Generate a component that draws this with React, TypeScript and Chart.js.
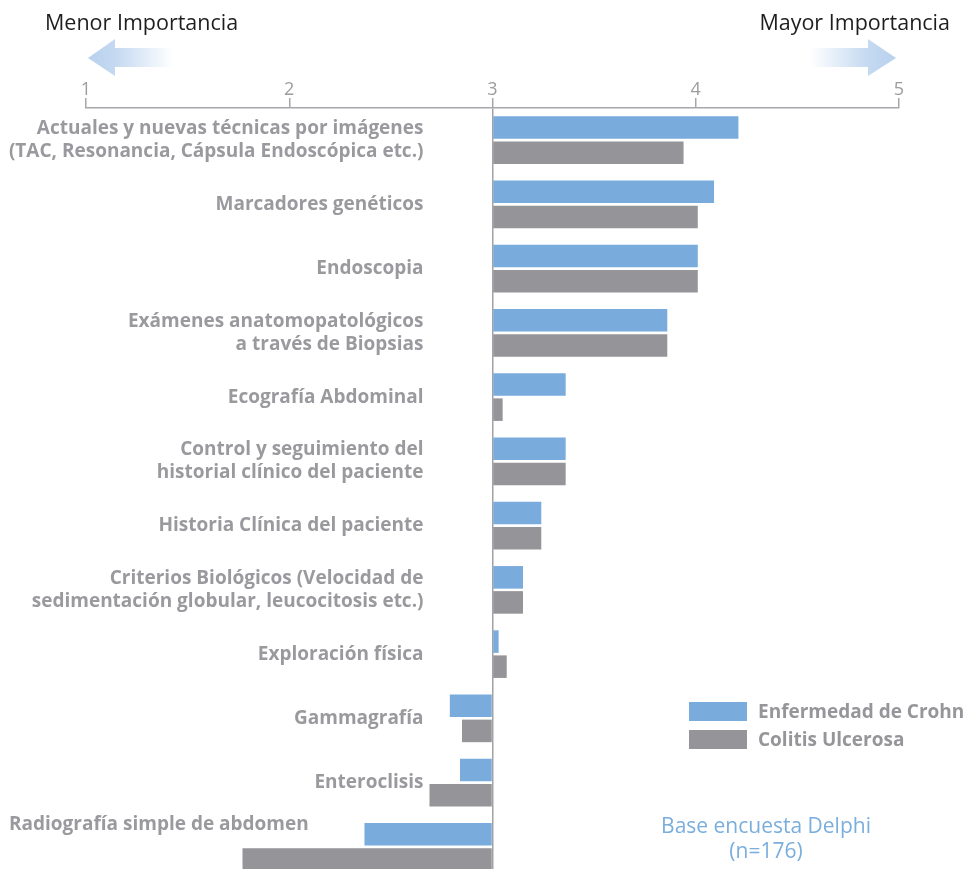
import React, { useEffect, useRef } from "react";
import { Chart, registerables } from "chart.js";

Chart.register(...registerables);

// Diagnostic methods, top to bottom
const categories: string[][] = [
  ["Actuales y nuevas técnicas por imágenes", "(TAC, Resonancia, Cápsula Endoscópica etc.)"],
  ["Marcadores genéticos"],
  ["Endoscopia"],
  ["Exámenes anatomopatológicos", "a través de Biopsias"],
  ["Ecografía Abdominal"],
  ["Control y seguimiento del", "historial clínico del paciente"],
  ["Historia Clínica del paciente"],
  ["Criterios Biológicos (Velocidad de", "sedimentación globular, leucocitosis etc.)"],
  ["Exploración física"],
  ["Gammagrafía"],
  ["Enteroclisis"],
  ["Radiografía simple de abdomen"],
];

// Mean importance score (1–5 scale), bars grow from the neutral value 3
const crohnValues = [4.21, 4.09, 4.01, 3.86, 3.36, 3.36, 3.24, 3.15, 3.03, 2.79, 2.84, 2.37];
const colitisValues = [3.94, 4.01, 4.01, 3.86, 3.05, 3.36, 3.24, 3.15, 3.07, 2.85, 2.69, 1.77];

const seriesNames = ["Enfermedad de Crohn", "Colitis Ulcerosa"];
const seriesColors = ["#79acdd", "#959599"];

const axisTicks = [1, 2, 3, 4, 5];
const neutralValue = 3;

const FONT = "'Open Sans', 'Noto Sans', sans-serif";
const LABEL_COLOR = "#9a9a9e";

// Draws the category names next to the bar pairs
const categoryLabels = {
  id: "categoryLabels",
  afterDatasetsDraw(chart: any) {
    const { ctx, scales } = chart;
    const yScale = scales.y;
    const xScale = scales.x;
    const rightEdge = xScale.getPixelForValue(neutralValue) - 69;
    const lineHeight = 23;
    ctx.save();
    ctx.font = `bold 19px ${FONT}`;
    ctx.fillStyle = LABEL_COLOR;
    ctx.textBaseline = "middle";
    categories.forEach((lines, i) => {
      const cy = yScale.getPixelForValue(i);
      const isLast = i === categories.length - 1;
      const top = cy - ((lines.length - 1) * lineHeight) / 2 - (isLast ? 22 : 0);
      ctx.textAlign = isLast ? "left" : "right";
      const x = isLast ? 9 : rightEdge;
      lines.forEach((line, j) => {
        ctx.fillText(line, x, top + j * lineHeight);
      });
    });
    ctx.restore();
  },
};

function Arrow({ dir }: { dir: "left" | "right" }) {
  const id = `grad-${dir}`;
  const pts =
    dir === "left"
      ? "2,19 29,0 29,9 87,9 87,28 29,28 29,37"
      : "86,19 58,0 58,9 0,9 0,28 58,28 58,37";
  return (
    <svg width={88} height={38} style={{ position: "absolute", left: dir === "left" ? 86 : 810, top: 39 }}>
      <defs>
        <linearGradient id={id} x1={dir === "left" ? "0" : "1"} y1="0" x2={dir === "left" ? "1" : "0"} y2="0">
          <stop offset="0" stopColor="#b9d1ee" />
          <stop offset="0.35" stopColor="#c6daf1" />
          <stop offset="1" stopColor="#ffffff" />
        </linearGradient>
      </defs>
      <polygon points={pts} fill={`url(#${id})`} />
    </svg>
  );
}

export default function App() {
  const canvasRef = useRef<HTMLCanvasElement | null>(null);

  useEffect(() => {
    if (!canvasRef.current) return;
    const chart = new Chart(canvasRef.current, {
      type: "bar",
      data: {
        labels: categories.map((c) => c.join(" ")),
        datasets: [
          {
            label: seriesNames[0],
            data: crohnValues,
            backgroundColor: seriesColors[0],
            base: neutralValue,
            categoryPercentage: 0.78,
            barPercentage: 0.9,
          } as any,
          {
            label: seriesNames[1],
            data: colitisValues,
            backgroundColor: seriesColors[1],
            base: neutralValue,
            categoryPercentage: 0.78,
            barPercentage: 0.9,
          } as any,
        ],
      },
      options: {
        indexAxis: "y",
        animation: false,
        responsive: false,
        layout: { padding: { left: 86, right: 69, top: 0, bottom: 0 } },
        plugins: {
          legend: { display: false },
          tooltip: { enabled: false },
        },
        scales: {
          x: {
            position: "top",
            min: axisTicks[0],
            max: axisTicks[axisTicks.length - 1],
            afterBuildTicks: (scale: any) => {
              scale.ticks = axisTicks.map((v) => ({ value: v }));
            },
            afterFit: (scale: any) => {
              scale.height = 108;
            },
            ticks: {
              color: "#9c9ca0",
              font: { family: FONT, size: 18 },
              padding: -3,
            },
            grid: {
              color: (c: any) => (c.tick && c.tick.value === neutralValue ? "#a2a2a6" : "rgba(0,0,0,0)"),
              lineWidth: 1.5,
              tickColor: "#a7a7ab",
              tickLength: 10,
              drawOnChartArea: true,
            },
            border: { color: "#a7a7ab", width: 1.5 },
          },
          y: {
            display: false,
            grid: { display: false },
          },
        },
      },
      plugins: [categoryLabels],
    });
    return () => chart.destroy();
  }, []);

  const titleStyle: React.CSSProperties = {
    position: "absolute",
    top: 8,
    fontFamily: FONT,
    fontSize: 21.5,
    color: "#1e1e1e",
    lineHeight: "28px",
    whiteSpace: "nowrap",
  };

  return (
    <div style={{ position: "absolute", left: 0, top: 0, width: 968, height: 869, background: "#fff", overflow: "hidden" }}>
      <canvas ref={canvasRef} width={968} height={879} style={{ position: "absolute", left: 0, top: 0 }} />
      <div style={{ ...titleStyle, left: 45 }}>Menor Importancia</div>
      <div style={{ ...titleStyle, right: 18 }}>Mayor Importancia</div>
      <Arrow dir="left" />
      <Arrow dir="right" />
      <div style={{ position: "absolute", left: 689, top: 697, fontFamily: FONT, fontWeight: 700, fontSize: 19, color: "#96969a" }}>
        {seriesNames.map((name, i) => (
          <div key={name} style={{ display: "flex", alignItems: "center", height: 28, whiteSpace: "nowrap" }}>
            <span style={{ display: "inline-block", width: 58, height: 19, background: seriesColors[i], marginRight: 11 }} />
            <span>{name}</span>
          </div>
        ))}
      </div>
      <div
        style={{
          position: "absolute",
          left: 616,
          width: 300,
          top: 813,
          textAlign: "center",
          fontFamily: FONT,
          fontSize: 21,
          lineHeight: "25px",
          color: "#7aaedd",
        }}
      >
        <div>Base encuesta Delphi</div>
        <div>(n=176)</div>
      </div>
    </div>
  );
}
